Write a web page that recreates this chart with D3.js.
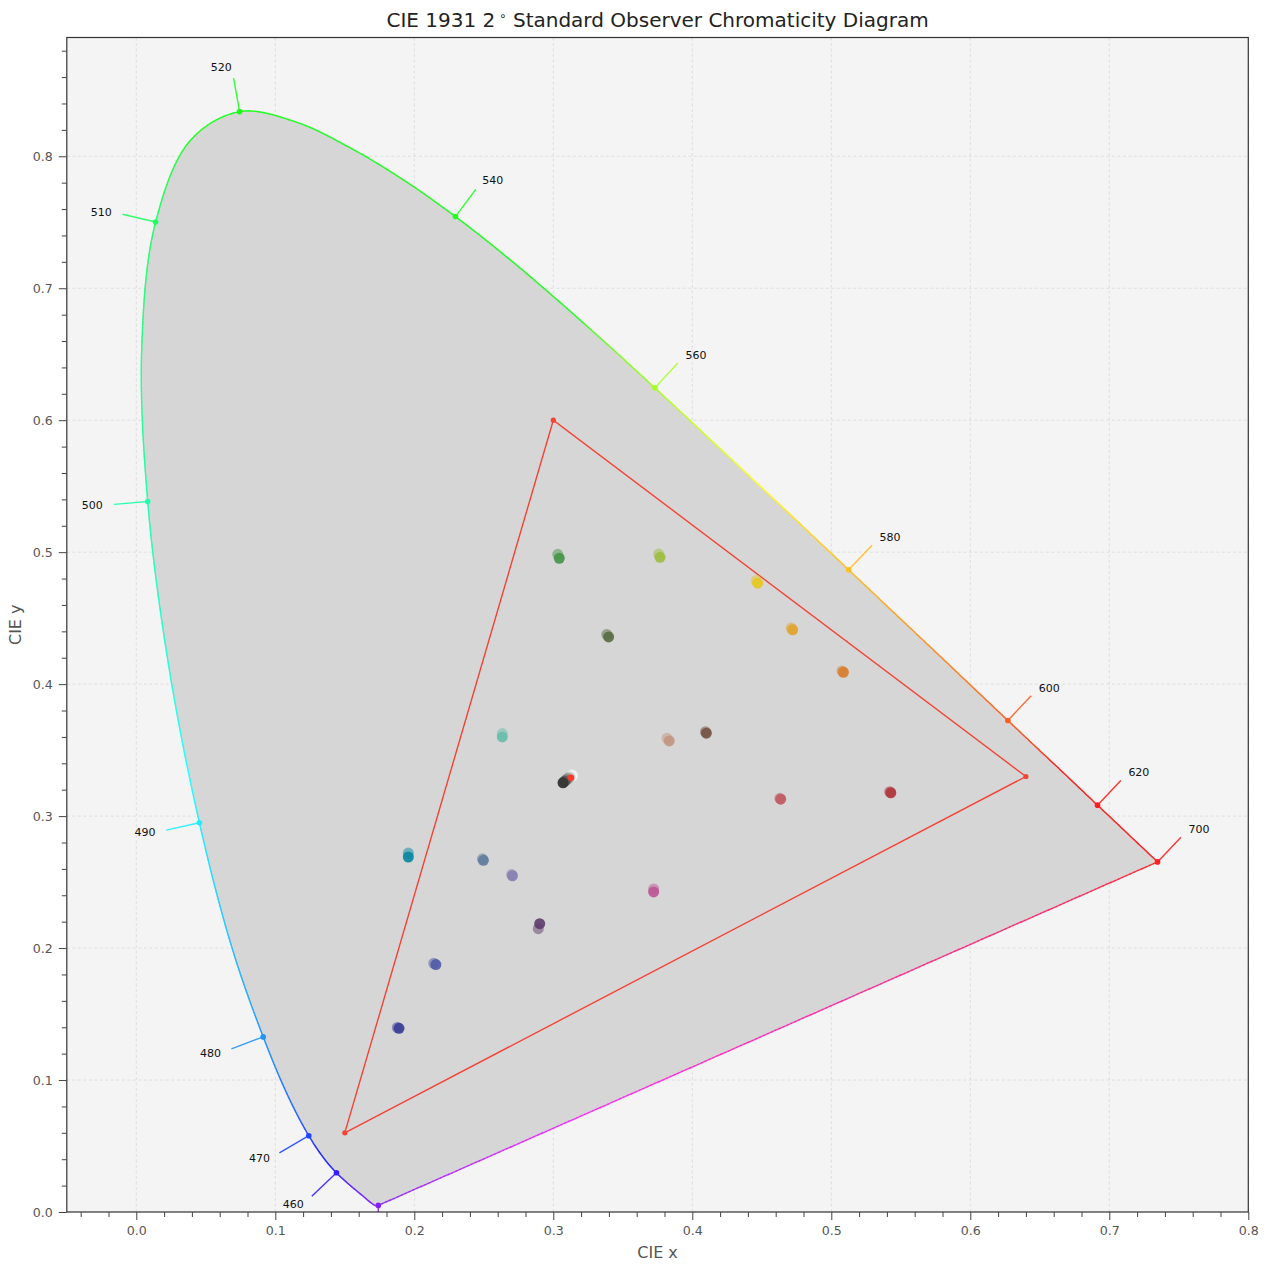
<!DOCTYPE html>
<html><head><meta charset="utf-8">
<script src="https://cdn.jsdelivr.net/npm/d3@7"></script>
<style>
body{margin:0;background:#fff;}
text{font-family:"DejaVu Sans","Liberation Sans",sans-serif;}
</style>
</head><body>
<svg id="chart" width="1270" height="1270"></svg>
<script>
// ---------------- DATA ----------------
const wavelengths = [380,385,390,395,400,405,410,415,420,425,430,435,440,445,450,455,460,465,470,475,480,485,490,495,500,505,510,515,520,525,530,535,540,545,550,555,560,565,570,575,580,585,590,595,600,605,610,615,620,625,630,635,640,645,650,655,660,665,670,675,680,685,690,695,700];
const locusX = [0.1741,0.1740,0.1738,0.1736,0.1733,0.1730,0.1726,0.1721,0.1714,0.1703,0.1689,0.1669,0.1644,0.1611,0.1566,0.1510,0.1440,0.1355,0.1241,0.1096,0.0913,0.0687,0.0454,0.0235,0.0082,0.0039,0.0139,0.0389,0.0743,0.1142,0.1547,0.1929,0.2296,0.2658,0.3016,0.3373,0.3731,0.4087,0.4441,0.4788,0.5125,0.5448,0.5752,0.6029,0.6270,0.6482,0.6658,0.6801,0.6915,0.7006,0.7079,0.7140,0.7190,0.7230,0.7260,0.7283,0.7300,0.7311,0.7320,0.7327,0.7334,0.7340,0.7344,0.7346,0.7347];
const locusY = [0.0050,0.0050,0.0049,0.0049,0.0048,0.0048,0.0048,0.0048,0.0051,0.0058,0.0069,0.0086,0.0109,0.0138,0.0177,0.0227,0.0297,0.0399,0.0578,0.0868,0.1327,0.2007,0.2950,0.4127,0.5384,0.6548,0.7502,0.8120,0.8338,0.8262,0.8059,0.7816,0.7543,0.7243,0.6923,0.6589,0.6245,0.5896,0.5547,0.5202,0.4866,0.4544,0.4242,0.3965,0.3725,0.3514,0.3340,0.3197,0.3083,0.2993,0.2920,0.2859,0.2809,0.2770,0.2740,0.2717,0.2700,0.2689,0.2680,0.2673,0.2666,0.2660,0.2656,0.2654,0.2653];
const labelWavelengths = [380,460,470,480,490,500,510,520,540,560,580,600,620,700];

const gamutX = [0.64, 0.30, 0.15];
const gamutY = [0.33, 0.60, 0.06];
const whitePoint = [0.3127, 0.3290];

const patchNames  = ["dark skin","light skin","blue sky","foliage","blue flower","bluish green","orange","purplish blue","moderate red","purple","yellow green","orange yellow","blue","green","red","yellow","magenta","cyan","white","neutral 8","neutral 6.5","neutral 5","neutral 3.5","black"];
const patchColors = ["#735244","#c29682","#627a9d","#576c43","#8580b1","#67bdaa","#d67e2c","#505ba6","#c15a63","#5e3c6c","#9dbc40","#e0a32e","#383d96","#469449","#af363c","#e7c71f","#bb5695","#0885a1","#f3f3f2","#c8c8c8","#a0a0a0","#7a7a79","#555555","#343434"];
const patchXA = [0.4095,0.3818,0.2490,0.3385,0.2700,0.2633,0.5077,0.2140,0.4630,0.2892,0.3758,0.4712,0.1878,0.3032,0.5420,0.4460,0.3722,0.1957,0.3135,0.3122,0.3108,0.3098,0.3085,0.3072];
const patchYA = [0.3640,0.3590,0.2676,0.4377,0.2557,0.3625,0.4100,0.1885,0.3135,0.2147,0.4986,0.4425,0.1398,0.4984,0.3185,0.4785,0.2448,0.2720,0.3315,0.3298,0.3290,0.3280,0.3268,0.3255];
const patchXB = [0.4101,0.3834,0.2497,0.3398,0.2706,0.2633,0.5087,0.2155,0.4636,0.2902,0.3768,0.4722,0.1890,0.3043,0.5428,0.4470,0.3722,0.1957,0.3138,0.3120,0.3106,0.3096,0.3083,0.3070];
const patchYB = [0.3628,0.3570,0.2665,0.4358,0.2548,0.3600,0.4090,0.1875,0.3128,0.2185,0.4961,0.4412,0.1392,0.4954,0.3177,0.4765,0.2425,0.2690,0.3305,0.3294,0.3286,0.3276,0.3265,0.3252];

const xMajor = [0.0,0.1,0.2,0.3,0.4,0.5,0.6,0.7,0.8];
const yMajor = [0.0,0.1,0.2,0.3,0.4,0.5,0.6,0.7,0.8];

// ---------------- LAYOUT ----------------
const svg = d3.select("#chart");
const L = 66.8, R = 1248.3, T = 37.5, B = 1212;
const x = d3.scaleLinear().domain([-0.05, 0.8]).range([L, R]);
const y = d3.scaleLinear().domain([0, 0.89]).range([B, T]);

function xyToRGB(cx, cy) {
  const X = cx / cy, Y = 1, Z = (1 - cx - cy) / cy;
  let r = 3.2406*X - 1.5372*Y - 0.4986*Z;
  let g = -0.9689*X + 1.8758*Y + 0.0415*Z;
  let b = 0.0557*X - 0.2040*Y + 1.0570*Z;
  r = Math.max(r,0); g = Math.max(g,0); b = Math.max(b,0);
  const m = Math.max(r,g,b) || 1;
  const enc = v => { v = v/m; return v <= 0.0031308 ? 12.92*v : 1.055*Math.pow(v,1/2.4)-0.055; };
  const c = d3.rgb(enc(r)*255, enc(g)*255, enc(b)*255);
  return d3.interpolateRgb(c, "#ffffff")(0.12);
}

svg.append("defs").append("clipPath").attr("id","plotclip")
  .append("rect").attr("x",L).attr("y",T).attr("width",R-L).attr("height",B-T);

svg.append("rect").attr("x",L).attr("y",T).attr("width",R-L).attr("height",B-T).attr("fill","#f4f4f4");

const plot = svg.append("g").attr("clip-path","url(#plotclip)");

// locus shape
const pts = wavelengths.map((w,i)=>[x(locusX[i]), y(locusY[i])]);
const lineGen = d3.line().curve(d3.curveCatmullRom.alpha(0.5));
const locusD = lineGen(pts);
plot.append("path").attr("d", locusD + "Z").attr("fill","#d6d6d6").attr("stroke","none");

// grid
const grid = plot.append("g");
xMajor.forEach(v=>grid.append("line").attr("x1",x(v)).attr("x2",x(v)).attr("y1",T).attr("y2",B)
  .attr("stroke","#d9d9d9").attr("stroke-width",0.8).attr("stroke-dasharray","3,2.5"));
yMajor.forEach(v=>grid.append("line").attr("x1",L).attr("x2",R).attr("y1",y(v)).attr("y2",y(v))
  .attr("stroke","#d9d9d9").attr("stroke-width",0.8).attr("stroke-dasharray","3,2.5"));

// gamut triangle
const gPts = gamutX.map((v,i)=>[x(v), y(gamutY[i])]);
plot.append("path").attr("d", d3.line()(gPts)+"Z").attr("fill","none")
  .attr("stroke","#f44336").attr("stroke-width",1.4);
plot.selectAll(".gv").data(gPts).join("circle").attr("cx",d=>d[0]).attr("cy",d=>d[1]).attr("r",2.6).attr("fill","#f44336");

// patches
patchNames.forEach((n,i)=>{
  plot.append("circle").attr("cx",x(patchXA[i])).attr("cy",y(patchYA[i])).attr("r",5.5)
    .attr("fill",patchColors[i]).attr("fill-opacity",0.5);
});
patchNames.forEach((n,i)=>{
  plot.append("circle").attr("cx",x(patchXB[i])).attr("cy",y(patchYB[i])).attr("r",5.5)
    .attr("fill",patchColors[i]).attr("fill-opacity",0.9);
});
plot.append("circle").attr("cx",x(whitePoint[0])).attr("cy",y(whitePoint[1])).attr("r",3.3).attr("fill","#f43a2a");

// coloured locus line
const hidden = svg.append("path").attr("d",locusD).attr("fill","none").attr("stroke","none");
const node = hidden.node();
const len = node.getTotalLength();
const segs = plot.append("g").attr("stroke-linecap","round").attr("stroke-width",1.4);
let prev = node.getPointAtLength(0);
for (let s = 1.5; s <= len + 1.5; s += 1.5) {
  const p = node.getPointAtLength(Math.min(s, len));
  const c = xyToRGB(x.invert((p.x+prev.x)/2), y.invert((p.y+prev.y)/2));
  segs.append("line").attr("x1",prev.x).attr("y1",prev.y).attr("x2",p.x).attr("y2",p.y).attr("stroke",c).attr("stroke-opacity",0.85);
  prev = p;
}
hidden.remove();
// line of purples
const n = wavelengths.length - 1;
const pA = pts[n], pB = pts[0];
const steps = 200;
for (let k = 0; k < steps; k++) {
  const t0 = k/steps, t1 = (k+1)/steps, tm = (t0+t1)/2;
  const cx = locusX[n] + (locusX[0]-locusX[n])*tm, cy = locusY[n] + (locusY[0]-locusY[n])*tm;
  segs.append("line")
    .attr("x1",pA[0]+(pB[0]-pA[0])*t0).attr("y1",pA[1]+(pB[1]-pA[1])*t0)
    .attr("x2",pA[0]+(pB[0]-pA[0])*t1).attr("y2",pA[1]+(pB[1]-pA[1])*t1)
    .attr("stroke",xyToRGB(cx,cy)).attr("stroke-opacity",0.85);
}

// wavelength markers & labels
const W = [x(whitePoint[0]), y(whitePoint[1])];
const ann = plot.append("g");
labelWavelengths.forEach(wl=>{
  const i = wavelengths.indexOf(wl);
  const p = pts[i];
  const a = pts[Math.max(i-1,0)], b = pts[Math.min(i+1,n)];
  let tx = b[0]-a[0], ty = b[1]-a[1];
  let nx = ty, ny = -tx;
  const nl = Math.hypot(nx,ny); nx/=nl; ny/=nl;
  if (nx*(p[0]-W[0]) + ny*(p[1]-W[1]) < 0) { nx=-nx; ny=-ny; }
  const col = xyToRGB(locusX[i], locusY[i]);
  ann.append("line").attr("x1",p[0]).attr("y1",p[1]).attr("x2",p[0]+34*nx).attr("y2",p[1]+34*ny)
    .attr("stroke",col).attr("stroke-width",1.4).attr("stroke-opacity",0.9);
  ann.append("circle").attr("cx",p[0]).attr("cy",p[1]).attr("r",2.8).attr("fill",col);
  const anchor = Math.abs(nx) < 0.05 ? "middle" : (nx > 0 ? "start" : "end");
  ann.append("text").attr("x",p[0]+45*nx).attr("y",p[1]+45*ny).attr("dy","0.35em")
    .attr("text-anchor",anchor).attr("font-size",11).attr("fill","#111").text(wl);
});

// spines
svg.append("rect").attr("x",L).attr("y",T).attr("width",R-L).attr("height",B-T)
  .attr("fill","none").attr("stroke","#333").attr("stroke-width",1.2);

// axes
const xMinor = d3.range(-0.04, 0.8001, 0.02).filter(v=>Math.abs(Math.round(v*10)-v*10)>1e-6);
const yMinor = d3.range(0.02, 0.8901, 0.02).filter(v=>Math.abs(Math.round(v*10)-v*10)>1e-6);
const axX = svg.append("g").attr("transform",`translate(0,${B})`)
  .call(d3.axisBottom(x).tickValues(xMajor).tickFormat(d3.format(".1f")).tickSize(8).tickPadding(6));
const axXm = svg.append("g").attr("transform",`translate(0,${B})`)
  .call(d3.axisBottom(x).tickValues(xMinor).tickFormat("").tickSize(5));
const axY = svg.append("g").attr("transform",`translate(${L},0)`)
  .call(d3.axisLeft(y).tickValues(yMajor).tickFormat(d3.format(".1f")).tickSize(8).tickPadding(6));
const axYm = svg.append("g").attr("transform",`translate(${L},0)`)
  .call(d3.axisLeft(y).tickValues(yMinor).tickFormat("").tickSize(5));
[axX,axXm,axY,axYm].forEach(g=>{
  g.select(".domain").remove();
  g.selectAll(".tick line").attr("stroke","#444").attr("stroke-width",1);
  g.selectAll(".tick text").attr("fill","#555").attr("font-size",12.6).attr("font-family","DejaVu Sans");
});

// labels
svg.append("text").attr("x",(L+R)/2).attr("y",1258).attr("text-anchor","middle")
  .attr("font-size",16).attr("fill","#555").text("CIE x");
svg.append("text").attr("transform",`translate(21,${(T+B)/2}) rotate(-90)`).attr("text-anchor","middle")
  .attr("font-size",16).attr("fill","#555").text("CIE y");
const title = svg.append("text").attr("x",(L+R)/2).attr("y",27).attr("text-anchor","middle")
  .attr("font-size",20).attr("fill","#222");
title.append("tspan").text("CIE 1931 2");
title.append("tspan").attr("dy",-7).attr("font-size",12).text(" \u2218");
title.append("tspan").attr("dy",7).text("  Standard Observer Chromaticity Diagram");
</script>
</body></html>
